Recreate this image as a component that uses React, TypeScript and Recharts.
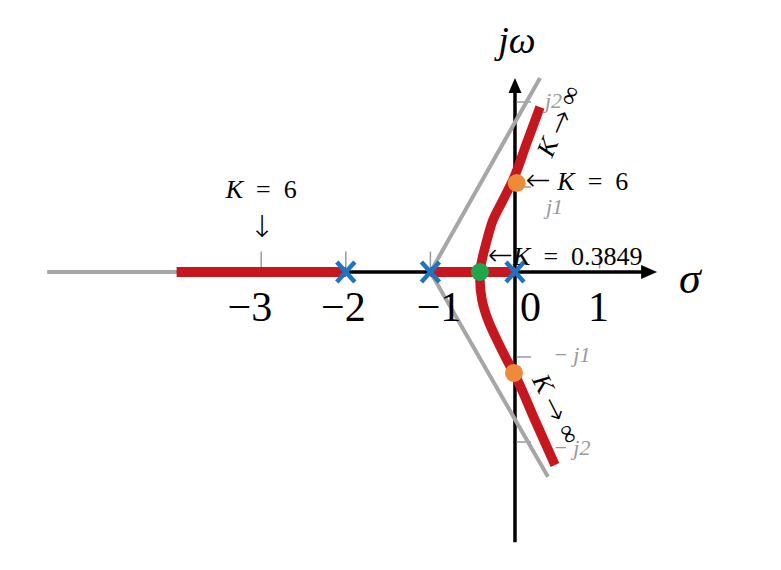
import React from "react";
import { ComposedChart, Line, Scatter, XAxis, YAxis, ReferenceLine } from "recharts";

// ---- data (s-plane coordinates: x = sigma, y = omega) ----
const poles = [{ x: -2, y: 0 }, { x: -1, y: 0 }, { x: 0, y: 0 }];
const breakaway = [{ x: -0.414, y: 0 }]; // K = 0.3849
const crossingsK6 = [{ x: 0.02, y: 1.047 }, { x: -0.012, y: -1.188 }];
const realRootK6 = [{ x: -3, y: 0 }];

const locusRealLeft = [{ x: -4, y: 0 }, { x: -2, y: 0 }];
const locusRealMid = [{ x: -1, y: 0 }, { x: 0, y: 0 }];
const locusComplex = [
  { x: 0.296, y: 1.941 },
  { x: 0.136, y: 1.51 },
  { x: -0.024, y: 1.082 },
  { x: -0.142, y: 0.847 },
  { x: -0.26, y: 0.612 },
  { x: -0.331, y: 0.376 },
  { x: -0.39, y: 0.141 },
  { x: -0.414, y: 0 },
  { x: -0.414, y: -0.094 },
  { x: -0.39, y: -0.329 },
  { x: -0.319, y: -0.565 },
  { x: -0.213, y: -0.8 },
  { x: -0.095, y: -1.035 },
  { x: -0.012, y: -1.188 },
  { x: 0.23, y: -1.73 },
  { x: 0.473, y: -2.271 },
];

const asymptoteUpper = [{ x: -1, y: 0 }, { x: 0.296, y: 2.282 }];
const asymptoteLower = [{ x: -1, y: 0 }, { x: 0.39, y: -2.41 }];
const asymptoteLeft = [{ x: -5.53, y: 0 }, { x: -4, y: 0 }];

const sigmaAxis = [{ x: -4, y: 0 }, { x: 1.52, y: 0 }];
const sigmaArrowTip = [{ x: 1.68, y: 0 }];
const jwAxis = [{ x: 0, y: -3.18 }, { x: 0, y: 2.13 }];
const jwArrowTip = [{ x: 0, y: 2.282 }];

const realTickValues = [-3, -2, -1, 1];
const realTickLabelValues = [-3, -2, -1, 0, 1];
const realTickLabels = ["\u22123", "\u22122", "\u22121", "0", "1"];
const imagTickValues = [2, 1, -1, -2];
const imagTickLabels = ["j2", "j1", "\u2212 j1", "\u2212 j2"];

const breakawayGainText = "0.3849";
const crossingGainText = "6";

// ---- styles ----
const RED = "#C8161E";
const GRAY = "#A6A6A6";
const BLUE = "#1C75C4";
const GREEN = "#1EA84B";
const ORANGE = "#EE8A38";
const TICKGRAY = "#9A9A9A";
const SERIF = "'Liberation Serif', 'DejaVu Serif', serif";
const ARROWFONT = "'DejaVu Sans', sans-serif";
const SP = "\u2002";

const realLabelStyle: Record<string, { dx: number; anchor: "start" | "middle" | "end" }> = {
  "\u22123": { dx: 11, anchor: "end" },
  "\u22122": { dx: 20, anchor: "end" },
  "\u22121": { dx: 31, anchor: "end" },
  "0": { dx: 5, anchor: "start" },
  "1": { dx: -1, anchor: "middle" },
};
const imagLabelStyle: Record<string, { dx: number; dy: number }> = {
  j2: { dx: 30, dy: 6 },
  j1: { dx: 31, dy: 27 },
  "\u2212 j1": { dx: 38, dy: 5 },
  "\u2212 j2": { dx: 38, dy: 13 },
};

const plain = (d: any[], color: string, w: number, key: string, type: any = "linear") => (
  <Line
    key={key}
    data={d}
    dataKey="y"
    type={type}
    stroke={color}
    strokeWidth={w}
    dot={false}
    activeDot={false}
    isAnimationActive={false}
    legendType="none"
  />
);

const dots = (d: any[], color: string, key: string) => (
  <Line
    key={key}
    data={d}
    dataKey="y"
    stroke="none"
    strokeWidth={0}
    dot={{ r: 9, fill: color, stroke: "none", strokeWidth: 0 }}
    activeDot={false}
    isAnimationActive={false}
    legendType="none"
  />
);

const Arrow = ({ ch }: { ch: string }) => (
  <tspan fontFamily={ARROWFONT} fontSize={30} fontWeight={200}>
    {ch}
  </tspan>
);

export default function App() {
  const realLabelData = realTickLabelValues.map((v, i) => ({ x: v, y: 0, label: realTickLabels[i] }));
  const imagLabelData = imagTickValues.map((v, i) => ({ x: 0, y: v, label: imagTickLabels[i] }));

  return (
    <div style={{ width: 765, height: 554 }}>
      <ComposedChart width={765} height={554} margin={{ top: 0, right: 0, bottom: 0, left: 0 }}>
        <XAxis type="number" dataKey="x" domain={[-5.993, 3.05]} allowDataOverflow hide />
        <YAxis type="number" dataKey="y" domain={[-3.412, 3.106]} allowDataOverflow hide />

        {/* axes */}
        {plain(sigmaAxis, "#000", 3.5, "sa")}
        {plain(jwAxis, "#000", 3.5, "ja")}

        {/* ticks */}
        {realTickValues.map((v) => (
          <ReferenceLine
            key={"rt" + v}
            segment={[{ x: v, y: 0.04 }, { x: v, y: 0.24 }]}
            stroke={TICKGRAY}
            strokeWidth={1.5}
          />
        ))}
        {imagTickValues.map((v) => (
          <ReferenceLine
            key={"it" + v}
            segment={[{ x: 0.02, y: v }, { x: 0.19, y: v }]}
            stroke={TICKGRAY}
            strokeWidth={1.5}
          />
        ))}

        {/* asymptotes */}
        {plain(asymptoteLeft, GRAY, 4, "al")}
        {plain(asymptoteUpper, GRAY, 4, "au")}
        {plain(asymptoteLower, GRAY, 4, "alo")}

        {/* real-axis locus */}
        {plain(locusRealLeft, RED, 10, "rl")}
        {plain(locusRealMid, RED, 10, "rm")}

        {/* special points (under the complex branch) */}
        {dots(breakaway, GREEN, "gd")}
        {dots(crossingsK6, ORANGE, "od")}

        {/* complex locus */}
        {plain(locusComplex, RED, 9.5, "rc", "monotoneY")}

        {/* arrow heads */}
        <Scatter
          data={sigmaArrowTip}
          isAnimationActive={false}
          shape={(p: any) => (
            <path d={`M${p.cx},${p.cy} L${p.cx - 16},${p.cy - 7} L${p.cx - 16},${p.cy + 7} Z`} fill="#000" />
          )}
        />
        <Scatter
          data={jwArrowTip}
          isAnimationActive={false}
          shape={(p: any) => (
            <path d={`M${p.cx},${p.cy} L${p.cx - 6.5},${p.cy + 15} L${p.cx + 6.5},${p.cy + 15} Z`} fill="#000" />
          )}
        />

        {/* poles */}
        <Scatter
          data={poles}
          isAnimationActive={false}
          shape={(p: any) => (
            <g stroke={BLUE} strokeWidth={4.5} strokeLinecap="butt">
              <line x1={p.cx - 9} y1={p.cy - 10} x2={p.cx + 9} y2={p.cy + 10} />
              <line x1={p.cx - 9} y1={p.cy + 10} x2={p.cx + 9} y2={p.cy - 10} />
            </g>
          )}
        />

        {/* tick labels */}
        <Scatter
          data={realLabelData}
          isAnimationActive={false}
          shape={(p: any) => {
            const st = realLabelStyle[p.payload.label];
            return (
              <text x={p.cx + st.dx} y={p.cy + 49} textAnchor={st.anchor} fontFamily={SERIF} fontSize={42} fill="#000">
                {p.payload.label}
              </text>
            );
          }}
        />
        <Scatter
          data={imagLabelData}
          isAnimationActive={false}
          shape={(p: any) => {
            const st = imagLabelStyle[p.payload.label];
            return (
              <text x={p.cx + st.dx} y={p.cy + st.dy} fontFamily={SERIF} fontStyle="italic" fontSize={22} fill={TICKGRAY}>
                {p.payload.label}
              </text>
            );
          }}
        />

        {/* axis titles */}
        <Scatter
          data={jwArrowTip}
          isAnimationActive={false}
          shape={(p: any) => (
            <text x={p.cx + 2} y={p.cy - 25} textAnchor="middle" fontFamily={SERIF} fontStyle="italic" fontSize={38} fill="#000">
              jω
            </text>
          )}
        />
        <Scatter
          data={sigmaArrowTip}
          isAnimationActive={false}
          shape={(p: any) => (
            <text x={p.cx + 22} y={p.cy + 21} fontFamily={SERIF} fontStyle="italic" fontSize={44} fill="#000">
              σ
            </text>
          )}
        />

        {/* annotations */}
        <Scatter
          data={realRootK6}
          isAnimationActive={false}
          shape={(p: any) => (
            <g fontFamily={SERIF} fontSize={26} fill="#000">
              <text x={p.cx} y={p.cy - 74} textAnchor="middle">
                <tspan fontStyle="italic">K</tspan>
                {SP}={SP}
                {crossingGainText}
              </text>
              <text x={p.cx + 1} y={p.cy - 35} textAnchor="middle" fontFamily={ARROWFONT} fontSize={30} fontWeight={200}>
                ↓
              </text>
            </g>
          )}
        />
        <Scatter
          data={[crossingsK6[0]]}
          isAnimationActive={false}
          shape={(p: any) => (
            <text x={p.cx + 9} y={p.cy + 7} fontFamily={SERIF} fontSize={26} fill="#000">
              <Arrow ch="←" /> <tspan fontStyle="italic">K</tspan>
              {SP}={SP}
              {crossingGainText}
            </text>
          )}
        />
        <Scatter
          data={breakaway}
          isAnimationActive={false}
          shape={(p: any) => (
            <text x={p.cx + 8} y={p.cy - 7} fontFamily={SERIF} fontSize={26} fill="#000">
              <Arrow ch="←" />
              <tspan fontStyle="italic">K</tspan>
              {SP}={SP}
              {breakawayGainText}
            </text>
          )}
        />
        <Scatter
          data={[locusComplex[0]]}
          isAnimationActive={false}
          shape={(p: any) => (
            <text
              x={p.cx + 21}
              y={p.cy + 15}
              textAnchor="middle"
              fontFamily={SERIF}
              fontSize={26}
              fill="#000"
              transform={`rotate(-67 ${p.cx + 21} ${p.cy + 15})`}
              dominantBaseline="middle"
            >
              <tspan fontStyle="italic">K</tspan> <Arrow ch="→" /> ∞
            </text>
          )}
        />
        <Scatter
          data={[locusComplex[locusComplex.length - 1]]}
          isAnimationActive={false}
          shape={(p: any) => (
            <text
              x={p.cx - 1}
              y={p.cy - 55}
              textAnchor="middle"
              fontFamily={SERIF}
              fontSize={26}
              fill="#000"
              transform={`rotate(63 ${p.cx - 1} ${p.cy - 55})`}
              dominantBaseline="middle"
            >
              <tspan fontStyle="italic">K</tspan> <Arrow ch="→" /> ∞
            </text>
          )}
        />
      </ComposedChart>
    </div>
  );
}
